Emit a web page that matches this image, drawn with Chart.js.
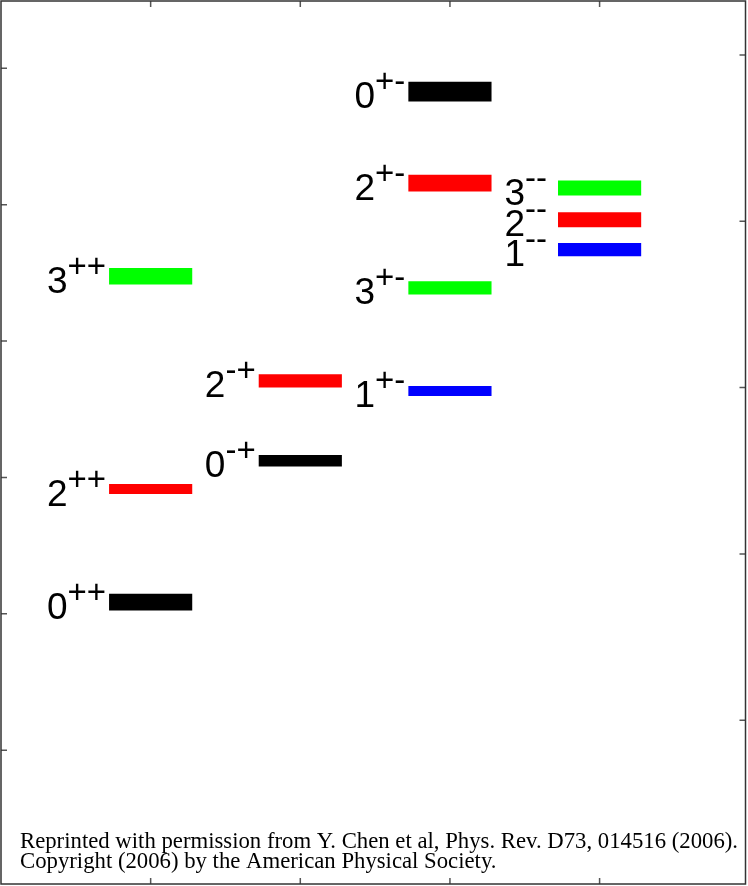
<!DOCTYPE html>
<html lang="en">
<head>
<meta charset="UTF-8">
<title>Glueball spectrum</title>
<script src="https://cdn.jsdelivr.net/npm/chart.js"></script>
<style>
  html, body { margin: 0; padding: 0; background: #fff; }
  #wrap { position: relative; width: 748px; height: 886px; }
</style>
</head>
<body>
<div id="wrap"><canvas id="spectrum"></canvas></div>
<script>
// glueball states J^PC, their column, mass and statistical error (GeV)
const states  = ['0++', '2++', '3++', '0-+', '2-+', '0+-', '1+-', '2+-', '3+-', '1--', '2--', '3--'];
const columns = [1, 1, 1, 2, 2, 3, 3, 3, 3, 4, 4, 4];
const masses  = [1.71, 2.39, 3.67, 2.56, 3.04, 4.78, 2.98, 4.23, 3.60, 3.83, 4.01, 4.20];
const errors  = [0.05, 0.03, 0.05, 0.035, 0.04, 0.06, 0.03, 0.05, 0.04, 0.04, 0.045, 0.045];

// tick positions (the figure shows no tick labels)
const columnTicks = [1, 2, 3, 4];
const gevTicks    = [1, 2, 3, 4, 5];
const r0Ticks     = [2, 4, 6, 8, 10, 12];

const footer = [
  'Reprinted with permission from Y. Chen et al, Phys. Rev. D73, 014516 (2006).',
  'Copyright (2006) by the American Physical Society.'
];

const R0_INV = 0.41;     // 1/r0 in GeV
const GEV_MIN = 0.015;
const GEV_MAX = 5.325;

const colorForJ = { '0': '#000000', '1': '#0000ff', '2': '#ff0000', '3': '#00ff00' };
const labelGap = { 1: 3, 2: 3, 3: 3, 4: 11 };

const levels = states.map((s, i) => ({ x: columns[i], y: [masses[i] - errors[i], masses[i] + errors[i]] }));

// J and PC text to the left of every level
const levelLabels = {
  id: 'levelLabels',
  afterDatasetsDraw(chart) {
    const ctx = chart.ctx;
    const meta = chart.getDatasetMeta(0);
    ctx.save();
    ctx.fillStyle = '#000';
    ctx.textBaseline = 'alphabetic';
    ctx.textAlign = 'left';
    meta.data.forEach((bar, i) => {
      const left = bar.x - bar.width / 2;
      const mid = (bar.y + bar.base) / 2;
      const j = states[i][0];
      const pc = states[i].slice(1);
      ctx.font = '37px "Liberation Sans", Arial, sans-serif';
      const wj = ctx.measureText(j).width;
      ctx.font = '33px "Liberation Sans", Arial, sans-serif';
      const wp = ctx.measureText(pc).width;
      const start = left - labelGap[columns[i]] - wj - wp;
      const base = mid + 16.5;
      ctx.font = '37px "Liberation Sans", Arial, sans-serif';
      ctx.fillText(j, start, base);
      ctx.font = '33px "Liberation Sans", Arial, sans-serif';
      ctx.fillText(pc, start + wj, base - 16);
    });
    ctx.restore();
  }
};

// box frame with inward ticks, plus the reprint note
const frame = {
  id: 'frame',
  afterDraw(chart) {
    const ctx = chart.ctx;
    const a = chart.chartArea;
    const sx = chart.scales.x, sy = chart.scales.y, sr = chart.scales.r0;
    ctx.save();

    ctx.fillStyle = '#000';
    ctx.font = '22.5px "Liberation Serif", "Times New Roman", serif';
    ctx.textBaseline = 'alphabetic';
    const w0 = ctx.measureText(footer[0]).width;
    const k = 718 / w0;
    ctx.save();
    ctx.translate(20, 848);
    ctx.scale(k, 1);
    ctx.fillText(footer[0], 0, 0);
    ctx.fillText(footer[1], 0, 20);
    ctx.restore();

    ctx.strokeStyle = '#555';
    ctx.lineWidth = 1.5;
    const tl = 6;
    ctx.beginPath();
    columnTicks.forEach(v => {
      const px = sx.getPixelForValue(v);
      ctx.moveTo(px, a.top); ctx.lineTo(px, a.top + tl);
      ctx.moveTo(px, a.bottom); ctx.lineTo(px, a.bottom - tl);
    });
    gevTicks.forEach(v => {
      const py = sy.getPixelForValue(v);
      ctx.moveTo(a.right, py); ctx.lineTo(a.right - tl, py);
    });
    r0Ticks.forEach(v => {
      const py = sr.getPixelForValue(v);
      ctx.moveTo(a.left, py); ctx.lineTo(a.left + tl, py);
    });
    ctx.stroke();

    ctx.strokeStyle = '#333';
    ctx.lineWidth = 1.5;
    ctx.strokeRect(a.left, a.top, a.right - a.left, a.bottom - a.top);
    ctx.restore();
  }
};

new Chart(document.getElementById('spectrum'), {
  type: 'bar',
  data: {
    datasets: [{
      data: levels,
      backgroundColor: states.map(s => colorForJ[s[0]]),
      borderWidth: 0,
      categoryPercentage: 1,
      barPercentage: 0.57
    }]
  },
  options: {
    responsive: true,
    maintainAspectRatio: false,
    animation: false,
    layout: { padding: { left: 1, top: 1, right: 2.5, bottom: 2 } },
    plugins: { legend: { display: false }, tooltip: { enabled: false } },
    scales: {
      x: { type: 'linear', min: 0, max: 4.975, offset: false, display: false, ticks: { stepSize: 1 } },
      y: { type: 'linear', position: 'right', min: GEV_MIN, max: GEV_MAX, display: false },
      r0: { type: 'linear', position: 'left', min: GEV_MIN / R0_INV, max: GEV_MAX / R0_INV, display: false }
    }
  },
  plugins: [levelLabels, frame]
});
</script>
</body>
</html>
